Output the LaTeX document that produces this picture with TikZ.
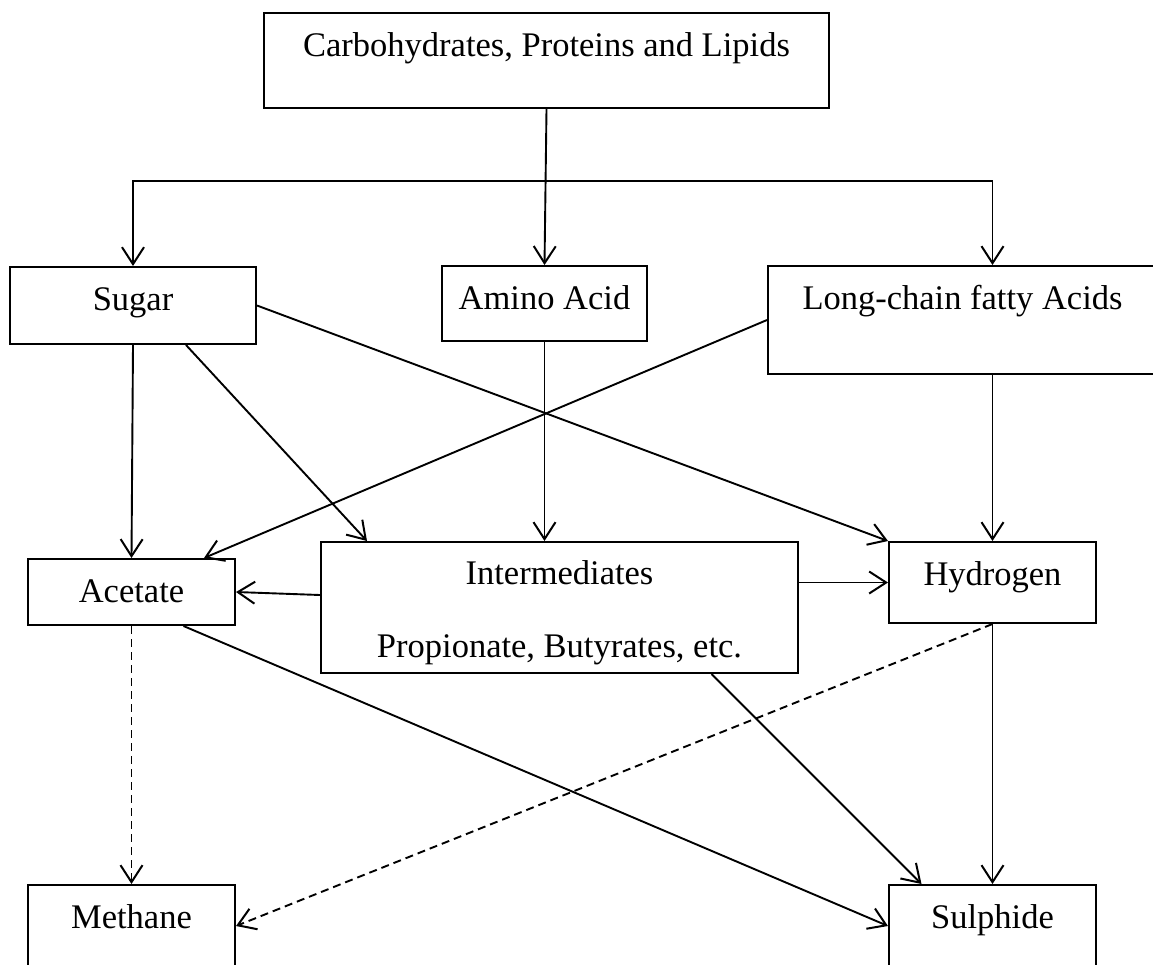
\documentclass[tikz,border=0pt]{standalone}
\usepackage{fontspec}
\setmainfont{Liberation Serif}
\usetikzlibrary{arrows.meta, positioning, calc}

\begin{document}
\begin{tikzpicture}[
  x=1pt, y=-1pt,
  block/.style={rectangle, draw=black, line width=2pt, inner xsep=0pt, inner ysep=0pt, anchor=north west, align=center, text height=43pt, font=\fontsize{34.5pt}{41.4pt}\selectfont},
  arr/.style={-{Straight Barb[length=17pt, width=22pt, line width=2pt]}, line width=1.9pt},
  darr/.style={arr, dash pattern=on 8pt off 5pt}
]
\useasboundingbox (0,0) rectangle (1153,964);
\node[block, minimum width=565pt, text depth=52pt] (source) at (263,12) {Carbohydrates, Proteins and Lipids};
\node[block, minimum width=246pt, text depth=34pt] (sugar) at (9,266) {Sugar};
\node[block, minimum width=205pt, text depth=32pt] (amino) at (441,265) {Amino Acid};
\node[block, minimum width=389pt, text depth=65pt] (longchain) at (767,265) {Long-chain fatty Acids};
\node[block, minimum width=207pt, text depth=23pt] (acetate) at (27,558) {Acetate};
\node[block, minimum width=477pt, text height=115pt, text depth=16pt] (intermediates) at (320,541) {Intermediates\\[31pt]Propionate, Butyrates, etc.};
\node[block, minimum width=207pt, text depth=38pt] (hydrogen) at (888,541) {Hydrogen};
\node[block, minimum width=207pt, text depth=39pt] (methane) at (27,884) {Methane};
\node[block, minimum width=207pt, text depth=39pt] (sulphide) at (888,884) {Sulphide};
% branching from the top box
\coordinate (split) at ($(source.south)!0.462!(amino.north)$);
\draw[arr] (source.south) -- (amino.north);
\draw[arr] (split) -| (sugar.north);
\draw[arr] (split) -| (hydrogen.north |- longchain.north);
% second level
\draw[arr] (sugar.south) -- (acetate.north);
\draw[arr] ([xshift=53pt]sugar.south) -- ([xshift=47pt]intermediates.north west);
\draw[arr] (sugar.east) -- (hydrogen.north west);
\draw[arr] (longchain.west) -- ([xshift=-32pt]acetate.north east);
\draw[arr] (amino.south) -- (amino.south |- intermediates.north);
\draw[arr] (hydrogen.north |- longchain.south) -- (hydrogen.north);
% third level
\draw[arr] ([yshift=12.5pt]intermediates.west) -- (acetate.east);
\draw[arr] (intermediates.east |- hydrogen.west) -- (hydrogen.west);
\draw[darr] (acetate.south) -- (methane.north);
\draw[arr] ([xshift=52pt]acetate.south) -- (sulphide.west);
\draw[arr] ([xshift=152pt]intermediates.south) -- ([xshift=-71pt]sulphide.north);
\draw[arr] (hydrogen.south) -- (sulphide.north);
\draw[darr] (hydrogen.south) -- (methane.east);
\end{tikzpicture}
\end{document}
